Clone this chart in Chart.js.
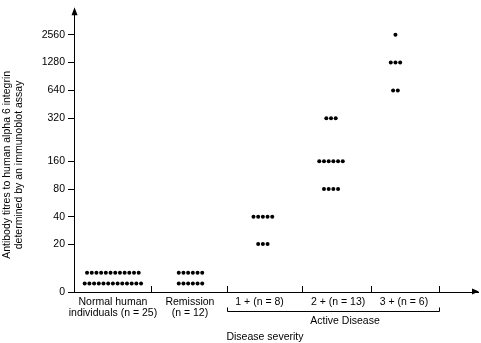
<!DOCTYPE html>
<html lang="en">
<head>
<meta charset="UTF-8">
<title>Antibody titres to alpha 6 integrin by disease severity</title>
<script src="https://cdn.jsdelivr.net/npm/chart.js@4"></script>
<style>
  body { margin: 0; background: #fff; }
  .chart-box { width: 481px; height: 343px; }
</style>
</head>
<body>
<div class="chart-box"><canvas id="titreChart"></canvas></div>
<script>
// x categories (tick labels)
const categories = [
  ['Normal human', 'individuals (n = 25)'],
  ['Remission', '(n = 12)'],
  '1 + (n = 8)',
  '2 + (n = 13)',
  '3 + (n = 6)'
];

// titres, one entry per subject
const normalTitres    = [8, 8, 8, 8, 8, 8, 8, 8, 8, 8, 8, 8,
                         3.5, 3.5, 3.5, 3.5, 3.5, 3.5, 3.5, 3.5, 3.5, 3.5, 3.5, 3.5, 3.5];
const remissionTitres = [8, 8, 8, 8, 8, 8, 3.5, 3.5, 3.5, 3.5, 3.5, 3.5];
const grade1Titres    = [40, 40, 40, 40, 40, 20, 20, 20];
const grade2Titres    = [320, 320, 320, 160, 160, 160, 160, 160, 160, 80, 80, 80, 80];
const grade3Titres    = [2560, 1280, 1280, 1280, 640, 640];

// y tick labels
const tickTitres = [0, 20, 40, 80, 160, 320, 640, 1280, 2560];

// axis layout: the y axis is not evenly spaced, so each tick gets a slot
const tickSlots = [0, 1.75, 2.75, 3.76, 4.77, 6.34, 7.36, 8.375, 9.39];
const yMax = 10.32;
const xMax = 5.247;
const groupEdges = [0, 1, 1.99, 2.96, 3.86, 4.74];
const labelCentres = [0.506, 1.506, 2.41, 3.43, 4.285];
const dotCentres = [0.505, 1.513, 2.453, 3.338, 4.175];
const dotGap = 0.061;

const FONT = '"Liberation Sans", Arial, sans-serif';

function titreToSlot(t) {
  for (let i = 0; i < tickTitres.length - 1; i++) {
    const a = tickTitres[i], b = tickTitres[i + 1];
    if (t <= b) return tickSlots[i] + (t - a) / (b - a) * (tickSlots[i + 1] - tickSlots[i]);
  }
  return tickSlots[tickSlots.length - 1];
}

// identical titres sit side by side in a row
function toPoints(titres, centre) {
  const counts = new Map();
  titres.forEach(t => counts.set(t, (counts.get(t) || 0) + 1));
  const pts = [];
  counts.forEach((n, t) => {
    for (let i = 0; i < n; i++) {
      pts.push({ x: centre + (i - (n - 1) / 2) * dotGap, y: titreToSlot(t) });
    }
  });
  return pts;
}

const groups = [normalTitres, remissionTitres, grade1Titres, grade2Titres, grade3Titres];

// arrows, boundary ticks, bracket and titles
const extras = {
  id: 'extras',
  afterDraw(chart) {
    const { ctx, chartArea: ca, scales: { x, y } } = chart;
    const ax = Math.round(ca.left) + 0.5;
    const ay = Math.round(ca.bottom) - 0.5;
    ctx.save();
    ctx.fillStyle = '#000';
    ctx.strokeStyle = '#000';
    ctx.lineWidth = 1;

    ctx.beginPath();
    ctx.moveTo(ax, ca.top - 2);
    ctx.lineTo(ax - 3, ca.top + 6);
    ctx.lineTo(ax + 3, ca.top + 6);
    ctx.closePath();
    ctx.fill();

    ctx.beginPath();
    ctx.moveTo(ca.right + 1, ay);
    ctx.lineTo(ca.right - 6, ay - 3);
    ctx.lineTo(ca.right - 6, ay + 3);
    ctx.closePath();
    ctx.fill();

    ctx.beginPath();
    groupEdges.slice(1).forEach(e => {
      const px = Math.round(x.getPixelForValue(e)) + 0.5;
      ctx.moveTo(px, ca.bottom - 6);
      ctx.lineTo(px, ca.bottom);
    });
    const bl = Math.round(x.getPixelForValue(groupEdges[2])) + 0.5;
    const br = Math.round(x.getPixelForValue(groupEdges[5])) + 0.5;
    const by = Math.round(ca.bottom) + 19.5;
    ctx.moveTo(bl, by - 4);
    ctx.lineTo(bl, by);
    ctx.lineTo(br, by);
    ctx.lineTo(br, by - 4);
    ctx.stroke();

    ctx.font = '10.5px ' + FONT;
    ctx.textAlign = 'center';
    ctx.textBaseline = 'middle';
    ctx.fillText('Active Disease', x.getPixelForValue(3.52), ca.bottom + 29);
    ctx.fillText('Disease severity', x.getPixelForValue(2.48), ca.bottom + 45);

    const ty = y.getPixelForValue(4.64);
    ctx.translate(7, ty);
    ctx.rotate(-Math.PI / 2);
    ctx.fillText('Antibody titres to human alpha 6 integrin', 0, 0);
    ctx.fillText('determined by an immunoblot assay', 0, 12.5);
    ctx.restore();
  }
};

Chart.defaults.color = '#000';
Chart.defaults.font.family = FONT;
Chart.defaults.font.size = 10.5;

new Chart(document.getElementById('titreChart'), {
  type: 'scatter',
  data: {
    datasets: groups.map((g, i) => ({
      data: toPoints(g, dotCentres[i]),
      backgroundColor: '#000',
      borderWidth: 0,
      pointRadius: 2,
      pointHoverRadius: 2
    }))
  },
  options: {
    responsive: true,
    maintainAspectRatio: false,
    animation: false,
    layout: { padding: { top: 3, right: 3, left: 0, bottom: 0 } },
    plugins: { legend: { display: false }, tooltip: { enabled: false } },
    scales: {
      x: {
        type: 'linear',
        min: 0,
        max: xMax,
        grid: { display: false, drawTicks: false },
        border: { display: true, color: '#000', width: 1 },
        afterBuildTicks: s => { s.ticks = labelCentres.map(v => ({ value: v })); },
        afterFit: s => { s.height = 51; },
        ticks: {
          autoSkip: false,
          maxRotation: 0,
          padding: 4,
          font: { size: 10.5, lineHeight: 1.1 },
          callback: (v, i) => categories[i]
        }
      },
      y: {
        type: 'linear',
        min: 0,
        max: yMax,
        grid: { display: true, drawOnChartArea: false, drawTicks: true, tickLength: 6, color: '#000' },
        border: { display: true, color: '#000', width: 1 },
        afterBuildTicks: s => { s.ticks = tickSlots.map(v => ({ value: v })); },
        afterFit: s => { s.width = 74; },
        ticks: {
          autoSkip: false,
          padding: 3,
          callback: (v, i) => String(tickTitres[i])
        }
      }
    }
  },
  plugins: [extras]
});
</script>
</body>
</html>
